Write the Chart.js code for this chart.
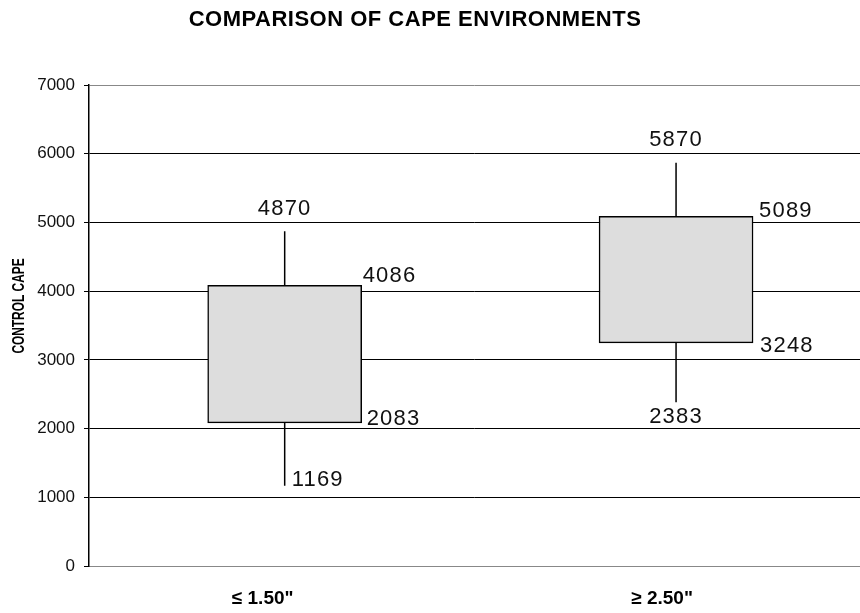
<!DOCTYPE html>
<html>
<head>
<meta charset="utf-8">
<script src="https://cdn.jsdelivr.net/npm/chart.js@4.4.1/dist/chart.umd.min.js"></script>
<style>
  body { margin: 0; background: #fff; }
</style>
</head>
<body>
<canvas id="capeChart" width="860" height="613"></canvas>
<script>
// box plot data
const categories = ['≤ 1.50"', '≥ 2.50"'];
const minCape = [1169, 2383];
const q1Cape = [2083, 3248];
const q3Cape = [4086, 5089];
const maxCape = [4870, 5870];

const FONT = "'Liberation Sans', Arial, sans-serif";

// whiskers as one line dataset, null breaks between segments
let whiskers = [];
categories.forEach((_, i) => {
    whiskers.push({ x: i, y: q3Cape[i] }, { x: i, y: maxCape[i] }, { x: i, y: null });
    whiskers.push({ x: i, y: minCape[i] }, { x: i, y: q1Cape[i] }, { x: i, y: null });
});

// where each value label sits relative to its mark (dx, dy in px)
const labelSpots = [
    { max: [0, -16, 'center', 'mid'], q3: [1, -3, 'left', 'right'], q1: [5, 2, 'left', 'right'], min: [7, 0, 'left', 'mid'] },
    { max: [0, -17, 'center', 'mid'], q3: [6, 1, 'left', 'right'], q1: [7, 9, 'left', 'right'], min: [0, 21, 'center', 'mid'] }
];
// category labels sit a little left of the box centres in the original
const catLabelShift = [-22, -14];

const labelPlugin = {
    id: 'boxLabels',
    afterDatasetsDraw(chart) {
        const ctx = chart.ctx;
        const x = chart.scales.x;
        const y = chart.scales.y;
        const bars = chart.getDatasetMeta(1).data;
        ctx.save();
        ctx.fillStyle = '#111';
        ctx.font = '22px ' + FONT;
        ctx.letterSpacing = '1.2px';
        ctx.textBaseline = 'alphabetic';
        categories.forEach((_, i) => {
            const bar = bars[i];
            const spots = labelSpots[i];
            const vals = { max: maxCape[i], q3: q3Cape[i], q1: q1Cape[i], min: minCape[i] };
            Object.keys(vals).forEach(k => {
                const [dx, dy, align, from] = spots[k];
                const x0 = from === 'right' ? bar.x + bar.width / 2 : bar.x;
                ctx.textAlign = align;
                ctx.fillText(String(vals[k]), x0 + dx, y.getPixelForValue(vals[k]) + dy);
            });
        });

        // category labels under the axis
        ctx.font = 'bold 19px ' + FONT;
        ctx.letterSpacing = '0px';
        ctx.fillStyle = '#000';
        ctx.textAlign = 'center';
        categories.forEach((c, i) => {
            ctx.fillText(c, x.getPixelForValue(i) + catLabelShift[i], x.top + 38);
        });

        // chart title
        ctx.font = 'bold 22px ' + FONT;
        ctx.letterSpacing = '0.5px';
        ctx.fillText('COMPARISON OF CAPE ENVIRONMENTS', 415, 26);

        // y axis title, condensed bold like the original
        ctx.save();
        ctx.translate(19, 306);
        ctx.rotate(-Math.PI / 2);
        ctx.scale(0.7, 1);
        ctx.font = 'bold 17px ' + FONT;
        ctx.letterSpacing = '0px';
        ctx.textBaseline = 'middle';
        ctx.fillText('CONTROL CAPE', 0, 0);
        ctx.restore();
        ctx.restore();
    }
};

new Chart(document.getElementById('capeChart'), {
    type: 'bar',
    data: {
        datasets: [
            {
                type: 'line',
                data: whiskers,
                borderColor: '#000',
                borderWidth: 1.5,
                pointRadius: 0,
                spanGaps: false,
                order: 2
            },
            {
                type: 'bar',
                data: categories.map((_, i) => ({ x: i, y: [q1Cape[i], q3Cape[i]] })),
                backgroundColor: '#dddddd',
                borderColor: '#000',
                borderWidth: 1.5,
                borderSkipped: false,
                barThickness: 154,
                order: 1
            }
        ]
    },
    options: {
        responsive: false,
        animation: false,
        layout: { padding: { top: 85, right: 0, left: 0, bottom: 0 } },
        plugins: {
            legend: { display: false },
            tooltip: { enabled: false },
            title: { display: false }
        },
        scales: {
            x: {
                type: 'linear',
                offset: false,
                min: -0.5,
                max: 1.47,
                afterBuildTicks: axis => { axis.ticks = categories.map((_, i) => ({ value: i })); },
                afterFit: scale => { scale.height = 47; },
                grid: { display: false, drawTicks: false },
                border: { color: '#888', width: 1 },
                ticks: { display: false }
            },
            y: {
                min: 0,
                max: 7000,
                afterFit: scale => { scale.width = 89; },
                grid: {
                    color: c => (c.tick && (c.tick.value === 0 || c.tick.value === 7000)) ? '#888' : '#000',
                    tickColor: '#000',
                    tickLength: 5,
                    lineWidth: 1
                },
                border: { color: '#000', width: 1.5 },
                ticks: {
                    stepSize: 1000,
                    padding: 9,
                    color: '#111',
                    font: { family: FONT, size: 17 },
                    callback: v => String(v)
                }
            }
        }
    },
    plugins: [labelPlugin]
});
</script>
</body>
</html>
